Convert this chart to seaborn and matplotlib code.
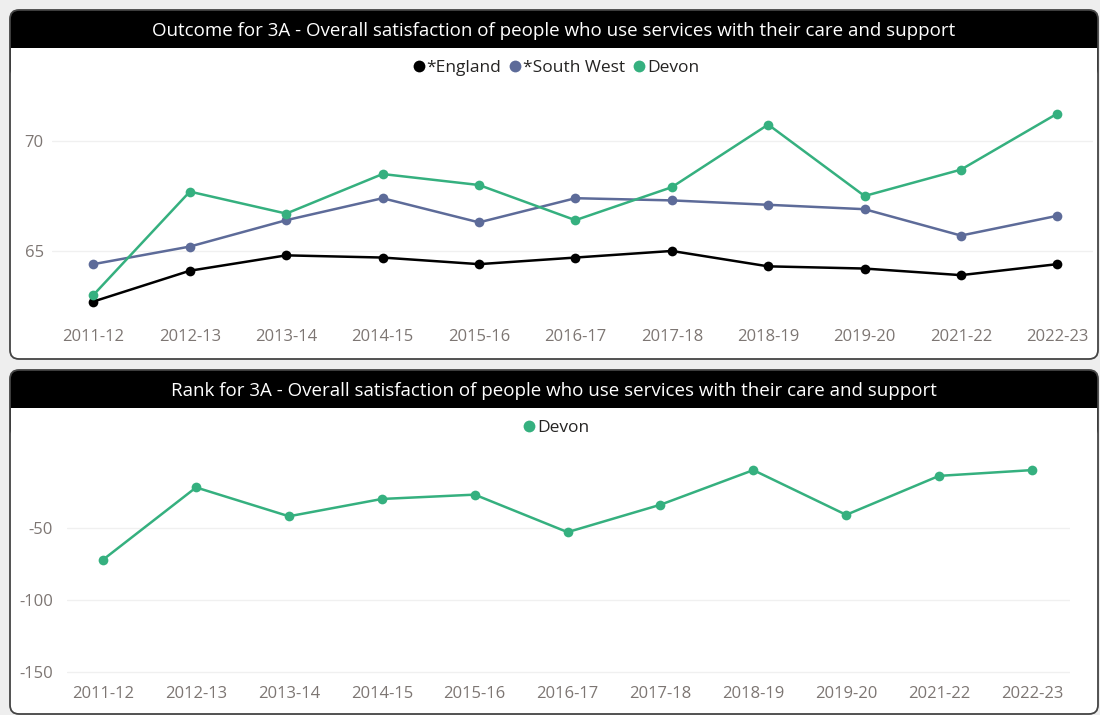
"""
Outcome and rank for ASCOF 3A - Devon vs comparators.
"""
import numpy as np
import pandas as pd
import seaborn as sns
import matplotlib.pyplot as plt
from matplotlib.patches import FancyBboxPatch, Rectangle
from matplotlib.lines import Line2D

YEARS = ['2011-12', '2012-13', '2013-14', '2014-15', '2015-16', '2016-17',
         '2017-18', '2018-19', '2019-20', '2021-22', '2022-23']

ENGLAND = [62.7, 64.1, 64.8, 64.7, 64.4, 64.7, 65.0, 64.3, 64.2, 63.9, 64.4]
SOUTH_WEST = [64.4, 65.2, 66.4, 67.4, 66.3, 67.4, 67.3, 67.1, 66.9, 65.7, 66.6]
DEVON = [63.0, 67.7, 66.7, 68.5, 68.0, 66.4, 67.9, 70.75, 67.5, 68.7, 71.25]

DEVON_RANK = [-72, -22, -42, -30, -27, -53, -34, -10, -41, -14, -10]

SERIES = ['*England', '*South West', 'Devon']
COLOURS = {'*England': '#000000', '*South West': '#5d6b99', 'Devon': '#35b07f'}

TITLE_1 = 'Outcome for 3A - Overall satisfaction of people who use services with their care and support'
TITLE_2 = 'Rank for 3A - Overall satisfaction of people who use services with their care and support'

W, H = 1100, 715
TICK_COLOUR = '#7d7673'


def card(fig, x0, y0, x1, y1, bar_bottom, title):
    """Draw a rounded panel with a black title bar (pixel coords, top origin)."""
    bx, by, bw, bh = x0, H - y1, x1 - x0, y1 - y0
    body = FancyBboxPatch((bx, by), bw, bh, boxstyle='round,pad=0,rounding_size=9',
                          facecolor='white', edgecolor='none', transform=None, zorder=-3)
    bar = FancyBboxPatch((bx, H - bar_bottom - 30), bw, bar_bottom - y0 + 30,
                         boxstyle='round,pad=0,rounding_size=9',
                         facecolor='black', edgecolor='none', transform=None, zorder=-2)
    fill = Rectangle((bx + 1, H - bar_bottom - 31), bw - 2, 31,
                     facecolor='white', edgecolor='none', transform=None, zorder=-1)
    edge = FancyBboxPatch((bx, by), bw, bh, boxstyle='round,pad=0,rounding_size=9',
                          facecolor='none', edgecolor='#444444', linewidth=1.3,
                          transform=None, zorder=5)
    for p in (body, bar, fill, edge):
        fig.add_artist(p)
    fig.text((x0 + x1) / 2 / W, 1 - ((y0 + bar_bottom) / 2 + 2) / H, title, color='white',
             ha='center', va='center', fontsize=13.5)


def style_axes(ax, yticks):
    sns.despine(ax=ax, left=True, bottom=True)
    ax.set_facecolor('none')
    ax.set_yticks(yticks)
    ax.grid(axis='y', color='#f0f0f0', linewidth=1)
    ax.grid(axis='x', visible=False)
    ax.tick_params(axis='both', length=0, labelsize=12, colors=TICK_COLOUR)
    ax.tick_params(axis='x', pad=8)
    ax.set_xlabel('')
    ax.set_ylabel('')


if __name__ == '__main__':

    sns.set_style('white')
    plt.rcParams['font.family'] = ['Open Sans', 'DejaVu Sans']
    plt.rcParams['axes.unicode_minus'] = False

    outcome = pd.DataFrame({
        'Year': YEARS * 3,
        'Area': np.repeat(SERIES, len(YEARS)),
        'Value': ENGLAND + SOUTH_WEST + DEVON,
    })
    rank = pd.DataFrame({'Year': YEARS, 'Area': 'Devon', 'Value': DEVON_RANK})

    fig = plt.figure(figsize=(W / 100, H / 100), dpi=100)
    fig.patch.set_facecolor('#eeeeee')

    card(fig, 10, 10, 1098, 359, 48, TITLE_1)
    card(fig, 10, 370, 1098, 714, 408, TITLE_2)

    ax1 = fig.add_axes([52 / W, 1 - 318 / H, 1041 / W, 233 / H])
    sns.lineplot(data=outcome, x='Year', y='Value', hue='Area', hue_order=SERIES,
                 palette=COLOURS, marker='o', markersize=7, markeredgewidth=0,
                 linewidth=1.8, sort=False, legend=False, ax=ax1)
    style_axes(ax1, [65, 70])
    ax1.tick_params(axis='y', pad=6)
    ax1.set_ylim(61.95, 72.55)
    ax1.set_xlim(-0.43, 10.37)

    ax2 = fig.add_axes([67 / W, 1 - 675 / H, 1003 / W, 230 / H])
    sns.lineplot(data=rank, x='Year', y='Value', color=COLOURS['Devon'], marker='o',
                 markersize=7, markeredgewidth=0, linewidth=1.8, sort=False,
                 legend=False, ax=ax2)
    style_axes(ax2, [-150, -100, -50])
    ax2.tick_params(axis='y', pad=10)
    ax2.set_ylim(-152, 7.4)
    ax2.set_xlim(-0.39, 10.41)

    handles = [Line2D([], [], marker='o', linestyle='none', markersize=8.5,
                      markeredgewidth=0, color=COLOURS[s]) for s in SERIES]
    fig.legend(handles, SERIES, loc='center', bbox_to_anchor=(0.505, 1 - 68 / H), ncol=3,
               frameon=False, fontsize=12.5, handletextpad=0.05, columnspacing=0.4,
               handlelength=0.8, labelcolor='#252423')
    fig.legend(handles[2:], SERIES[2:], loc='center', bbox_to_anchor=(0.505, 1 - 428 / H),
               frameon=False, fontsize=12.5, handletextpad=0.05, handlelength=0.8,
               labelcolor='#252423')

    fig.savefig('out.png', dpi=100, facecolor=fig.get_facecolor())
    plt.close()
